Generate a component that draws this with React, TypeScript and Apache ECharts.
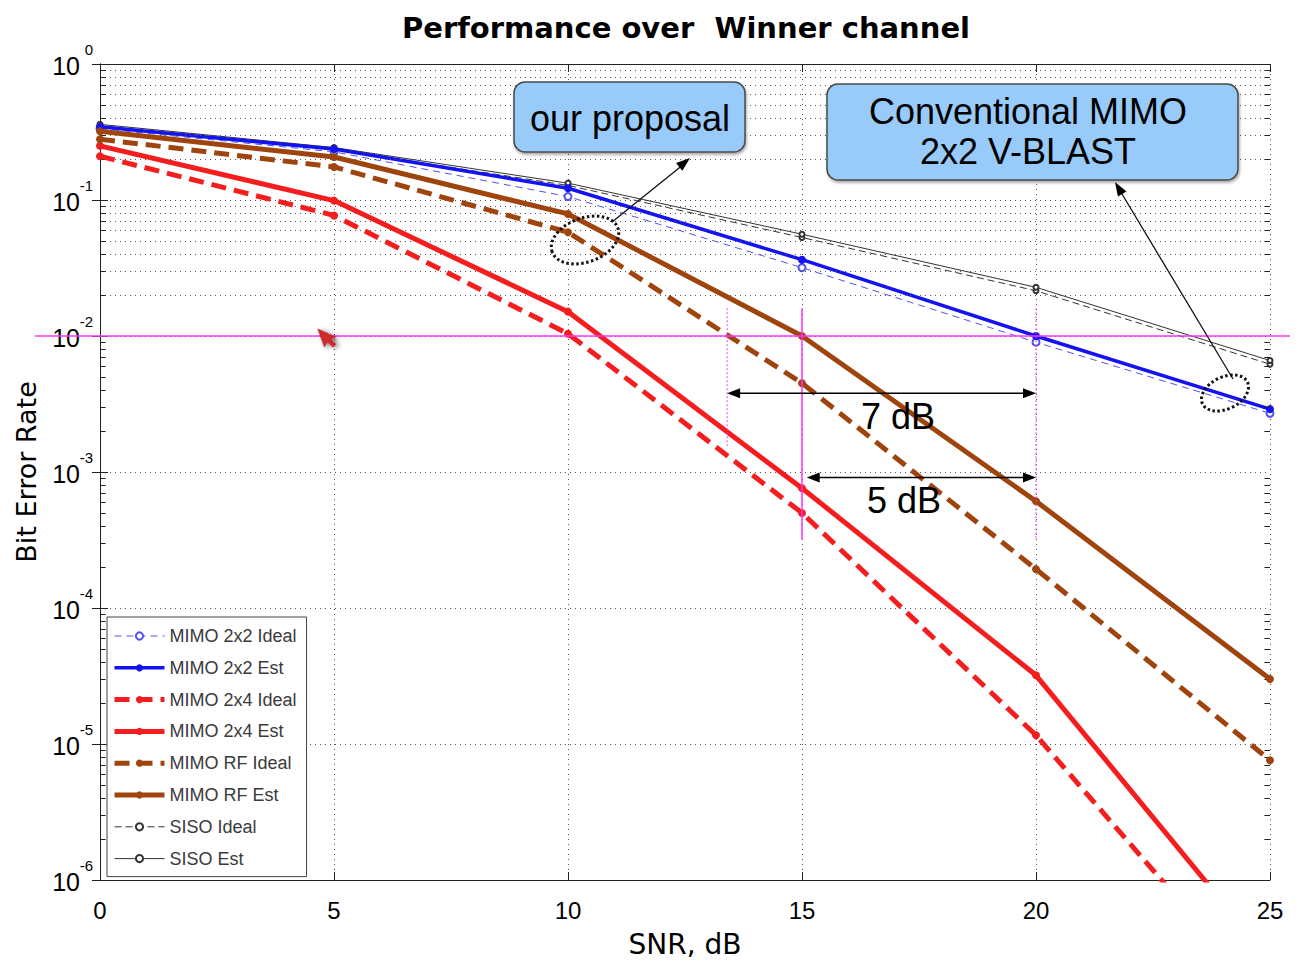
import React, { useEffect, useRef } from "react";
import * as echarts from "echarts";

// SNR sweep (dB) and measured bit error rates for each receiver
const snrDb = [0, 5, 10, 15, 20, 25];
const berMimo22Ideal = [0.335, 0.226, 0.106, 0.0318, 0.009, 0.0027];
const berMimo22Est = [0.345, 0.237, 0.122, 0.0364, 0.01, 0.0029];
const berMimo24Ideal = [0.21, 0.077, 0.0104, 5.0e-4, 1.16e-5, 1.2e-7];
const berMimo24Est = [0.25, 0.099, 0.0151, 7.6e-4, 3.2e-5, 2.6e-7];
const berRfIdeal = [0.28, 0.175, 0.058, 0.0045, 1.93e-4, 7.6e-6];
const berRfEst = [0.32, 0.207, 0.079, 0.01, 6.1e-4, 3.0e-5];
const berSisoIdeal = [0.35, 0.236, 0.128, 0.053, 0.0215, 0.0062];
const berSisoEst = [0.36, 0.243, 0.133, 0.056, 0.0228, 0.0066];

const legendNames = [
  "MIMO 2x2 Ideal",
  "MIMO 2x2 Est",
  "MIMO 2x4 Ideal",
  "MIMO 2x4 Est",
  "MIMO RF Ideal",
  "MIMO RF Est",
  "SISO Ideal",
  "SISO Est",
];

// log-axis minor grid: mantissas 2..9 in every decade
const gridDecades = [-6, -5, -4, -3, -2, -1];
const minorMantissas = [2, 3, 4, 5, 6, 7, 8, 9];

// annotation anchors (SNR dB, BER)
const targetBer = 1e-2;
const gapStartSnr = 13.4;
const rfEstSnr = 15;
const mimoSnr = 20;
const guideTopBer = 0.016;
const guideLeftBottomBer = 1.5e-3;
const guideBottomBer = 3.2e-4;
const arrow7Ber = 3.8e-3;
const arrow5Ber = 9.1e-4;
const arrow5StartSnr = 15.1;

const FONT = "'Liberation Sans', Arial, Helvetica, sans-serif";
const WIDE = "'DejaVu Sans', 'Liberation Sans', sans-serif";
const BLUE = "#1212f2";
const BLUE_LIGHT = "#5252ee";
const RED = "#f51d1d";
const BROWN = "#a0440e";
const DARK = "#333333";
const MAGENTA = "#ff33ff";

function zip(ys: number[]) {
  return snrDb.map((x, i) => [x, ys[i]]);
}

function lineSeries(
  name: string,
  ys: number[],
  color: string,
  width: number,
  dash: number[] | "solid",
  symbol: string,
  symbolSize: number,
  z: number
) {
  return {
    name,
    type: "line",
    data: zip(ys),
    clip: true,
    z,
    symbol,
    symbolSize,
    showSymbol: true,
    itemStyle: { color, borderColor: color, borderWidth: symbol.startsWith("empty") ? 1 : 0 },
    lineStyle: { color, width, type: dash },
    emphasis: { disabled: true },
  };
}

export default function App() {
  const ref = useRef<HTMLDivElement>(null);

  useEffect(() => {
    const chart = echarts.init(ref.current!, null, { renderer: "svg" });

    const gridLine = { color: "#555", width: 1, type: [1, 4] };
    const minorLines: any[] = [];
    const edgeTicks: any[] = [];
    gridDecades.forEach((d) => {
      minorMantissas.forEach((m) => {
        const v = m * Math.pow(10, d);
        minorLines.push({ yAxis: v, lineStyle: gridLine });
        edgeTicks.push([
          { coord: [0, v], lineStyle: { color: "#222", width: 1, type: "solid" } },
          { coord: [0.12, v] },
        ]);
        edgeTicks.push([
          { coord: [24.88, v], lineStyle: { color: "#222", width: 1, type: "solid" } },
          { coord: [25, v] },
        ]);
      });
    });

    const logAxisBase = {
      type: "log",
      logBase: 10,
      min: 1e-6,
      max: 1,
      interval: 1,
    };

    const option: any = {
      animation: false,
      backgroundColor: "#fff",
      title: {
        text: "Performance over  Winner channel",
        left: 681,
        top: 8,
        textAlign: "center",
        textStyle: { fontFamily: WIDE, fontSize: 29, fontWeight: "bold", color: "#000" },
      },
      grid: { left: 100, right: 34, top: 64, bottom: 81, containLabel: false },
      legend: {
        orient: "vertical",
        left: 107,
        top: 617,
        data: legendNames,
        selectedMode: false,
        itemWidth: 50,
        itemHeight: 9,
        itemGap: 13.8,
        padding: [10, 10, 9, 5],
        backgroundColor: "#fff",
        borderColor: "#444",
        borderWidth: 1,
        lineStyle: { width: "inherit" },
        textStyle: { fontFamily: FONT, fontSize: 18, color: "#3a3a3a", lineHeight: 18 },
      },
      xAxis: [
        {
          type: "value",
          min: 0,
          max: 25,
          interval: 5,
          name: "SNR, dB",
          nameLocation: "middle",
          nameGap: 50,
          nameTextStyle: { fontFamily: WIDE, fontSize: 28, color: "#000" },
          axisLine: { show: true, lineStyle: { color: "#222", width: 1 } },
          axisTick: { show: true, inside: true, length: 8, lineStyle: { color: "#222" } },
          axisLabel: { fontFamily: FONT, fontSize: 24, color: "#000", margin: 18 },
          splitLine: { show: true, lineStyle: gridLine },
        },
        {
          type: "value",
          position: "top",
          min: 0,
          max: 25,
          interval: 5,
          axisLine: { show: true, lineStyle: { color: "#222", width: 1 } },
          axisTick: { show: true, inside: true, length: 8, lineStyle: { color: "#222" } },
          axisLabel: { show: false },
          splitLine: { show: false },
        },
      ],
      yAxis: [
        {
          ...logAxisBase,
          name: "Bit Error Rate",
          nameLocation: "middle",
          nameGap: 60,
          nameRotate: 90,
          nameTextStyle: { fontFamily: WIDE, fontSize: 27, color: "#000" },
          axisLine: { show: true, lineStyle: { color: "#222", width: 1 } },
          axisTick: { show: true, inside: true, length: 8, lineStyle: { color: "#222" } },
          axisLabel: {
            margin: 20,
            fontFamily: FONT,
            fontSize: 25,
            lineHeight: 4,
            color: "#000",
            // blank first line nudges the base a little below the tick
            formatter: () => " \n10",
          },
          splitLine: { show: true, lineStyle: gridLine },
        },
        {
          ...logAxisBase,
          position: "right",
          axisLine: { show: true, lineStyle: { color: "#222", width: 1 } },
          axisTick: { show: true, inside: true, length: 8, lineStyle: { color: "#222" } },
          axisLabel: { show: false },
          splitLine: { show: false },
        },
        {
          // decade exponents, drawn as superscripts next to the "10" labels
          ...logAxisBase,
          position: "left",
          axisLine: { show: false },
          axisTick: { show: false },
          splitLine: { show: false },
          axisLabel: {
            margin: 7,
            fontFamily: FONT,
            fontSize: 15,
            lineHeight: 30,
            color: "#000",
            // trailing blank line lifts the exponent above the tick
            formatter: (v: number) => `${Math.round(Math.log10(v))}\n `,
          },
        },
      ],
      series: [
        {
          name: "grid-minor",
          type: "line",
          data: [],
          z: 1,
          silent: true,
          markLine: {
            silent: true,
            symbol: ["none", "none"],
            label: { show: false },
            animation: false,
            data: [...minorLines, ...edgeTicks],
          },
        },
        lineSeries(legendNames[0], berMimo22Ideal, BLUE_LIGHT, 1, [7, 5], "emptyCircle", 7, 3),
        lineSeries(legendNames[1], berMimo22Est, BLUE, 3.5, "solid", "circle", 8, 4),
        lineSeries(legendNames[2], berMimo24Ideal, RED, 5, [15, 8], "circle", 8, 5),
        lineSeries(legendNames[3], berMimo24Est, RED, 5, "solid", "circle", 8, 5),
        lineSeries(legendNames[4], berRfIdeal, BROWN, 5, [15, 8], "circle", 8, 5),
        lineSeries(legendNames[5], berRfEst, BROWN, 5, "solid", "circle", 8, 5),
        lineSeries(legendNames[6], berSisoIdeal, DARK, 1, [7, 4], "emptyCircle", 5, 3),
        lineSeries(legendNames[7], berSisoEst, DARK, 1, "solid", "emptyCircle", 5, 3),
      ],
    };

    chart.setOption(option);

    const px = (x: number, y: number) =>
      chart.convertToPixel({ xAxisIndex: 0, yAxisIndex: 0 }, [x, y]) as number[];

    const head = (tx: number, ty: number, fx: number, fy: number, len = 13, half = 5) => {
      const dx = tx - fx;
      const dy = ty - fy;
      const d = Math.hypot(dx, dy);
      const ux = dx / d;
      const uy = dy / d;
      const bx = tx - ux * len;
      const by = ty - uy * len;
      return {
        type: "polygon",
        z: 100,
        silent: true,
        shape: {
          points: [
            [tx, ty],
            [bx - uy * half, by + ux * half],
            [bx + uy * half, by - ux * half],
          ],
        },
        style: { fill: "#000" },
      };
    };
    const seg = (x1: number, y1: number, x2: number, y2: number, stroke: string, w: number, dash?: number[]) => ({
      type: "line",
      z: 99,
      silent: true,
      shape: { x1, y1, x2, y2 },
      style: { stroke, lineWidth: w, lineDash: dash },
    });

    const yTarget = px(0, targetBer)[1];
    const [xGap] = px(gapStartSnr, 1);
    const [xRf] = px(rfEstSnr, 1);
    const [xMimo] = px(mimoSnr, 1);
    const [xArr5] = px(arrow5StartSnr, 1);
    const yTop = px(0, guideTopBer)[1];
    const yLeftBottom = px(0, guideLeftBottomBer)[1];
    const yBottom = px(0, guideBottomBer)[1];
    const y7 = px(0, arrow7Ber)[1];
    const y5 = px(0, arrow5Ber)[1];

    const box = (x: number, y: number, w: number, h: number) => ({
      type: "rect",
      z: 120,
      silent: true,
      shape: { x, y, width: w, height: h, r: 11 },
      style: {
        fill: "#99cbfa",
        stroke: "#4a4a4a",
        lineWidth: 1.5,
        shadowBlur: 3,
        shadowColor: "rgba(0,0,0,0.35)",
        shadowOffsetX: 1,
        shadowOffsetY: 2,
      },
    });
    const label = (x: number, y: number, text: string, size = 36, lh = 40) => ({
      type: "text",
      z: 130,
      silent: true,
      x,
      y,
      style: {
        text,
        fontFamily: FONT,
        fontSize: size,
        lineHeight: lh,
        fill: "#000",
        align: "center",
        verticalAlign: "middle",
      },
    });

    const graphics: any[] = [
      // target BER reference line
      seg(35, yTarget, 1290, yTarget, MAGENTA, 1.5),
      seg(xGap, yTop, xGap, yLeftBottom, MAGENTA, 1, [2, 2]),
      seg(xRf, yTop, xRf, yBottom, MAGENTA, 1.5),
      seg(xMimo, yTop, xMimo, yBottom, MAGENTA, 1, [2, 2]),
      // 7 dB and 5 dB gain arrows
      seg(xGap + 4, y7, xMimo - 4, y7, "#000", 1.5),
      head(xGap, y7, xMimo, y7),
      head(xMimo, y7, xGap, y7),
      seg(xArr5 + 4, y5, xMimo - 4, y5, "#000", 1.5),
      head(xArr5, y5, xMimo, y5),
      head(xMimo, y5, xArr5, y5),
      label(898, 416, "7 dB"),
      label(904, 500, "5 dB"),
      // callout boxes
      box(514, 82, 231, 70),
      label(630, 118, "our proposal"),
      box(827, 84, 411, 96),
      label(1028, 131, "Conventional MIMO\n2x2 V-BLAST"),
      // callout pointers
      {
        type: "ellipse",
        z: 110,
        silent: true,
        x: 585,
        y: 240,
        rotation: 0.35,
        shape: { cx: 0, cy: 0, rx: 35, ry: 22 },
        style: { fill: "none", stroke: "#111", lineWidth: 3, lineDash: [2.5, 2.5] },
      },
      seg(612, 222, 684, 164, "#111", 1.3),
      head(690, 158, 612, 222, 14, 5),
      {
        type: "ellipse",
        z: 110,
        silent: true,
        x: 1225,
        y: 393,
        rotation: 0.45,
        shape: { cx: 0, cy: 0, rx: 25, ry: 16 },
        style: { fill: "none", stroke: "#111", lineWidth: 3, lineDash: [2.5, 2.5] },
      },
      seg(1233, 379, 1119, 189, "#111", 1.3),
      head(1115, 182, 1233, 379, 14, 5),
      // mouse pointer
      {
        type: "polygon",
        z: 140,
        silent: true,
        x: 318,
        y: 329,
        rotation: 0.35,
        shape: {
          points: [
            [0, 0],
            [0, 19],
            [4.5, 15],
            [8, 22],
            [11.5, 20.5],
            [8, 14],
            [13.5, 13.5],
          ],
        },
        style: {
          fill: "#d22b2b",
          stroke: "#b01818",
          lineWidth: 0.8,
          shadowBlur: 5,
          shadowColor: "rgba(0,0,0,0.55)",
          shadowOffsetX: 2,
          shadowOffsetY: 2,
        },
      },
    ];

    chart.setOption({ graphic: graphics });

    return () => chart.dispose();
  }, []);

  return (
    <div
      ref={ref}
      style={{ position: "fixed", left: 0, top: 0, width: 1304, height: 963, background: "#fff" }}
    />
  );
}
